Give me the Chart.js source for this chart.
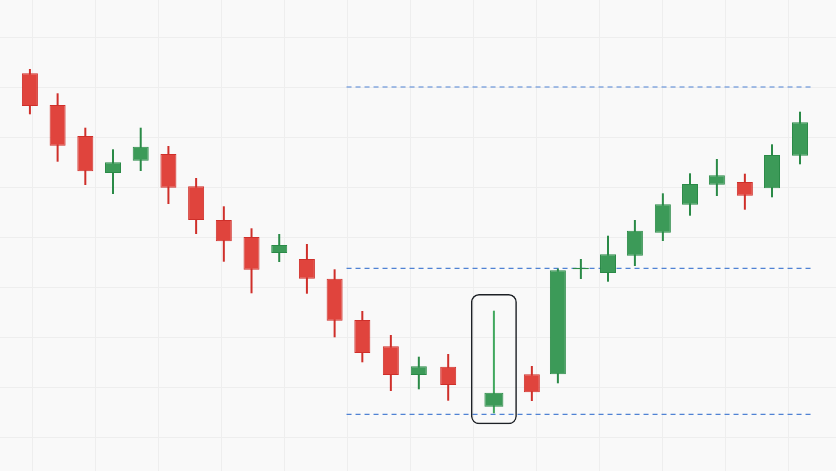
<!DOCTYPE html>
<html>
<head>
<meta charset="utf-8">
<script src="https://cdn.jsdelivr.net/npm/chart.js@4"></script>
<style>
  html, body { margin: 0; padding: 0; background: #f9f9f9; }
  #wrap { width: 836px; height: 471px; position: relative; }
</style>
</head>
<body>
<div id="wrap"><canvas id="candles"></canvas></div>
<script>
// ==========================================
// DATA
// ==========================================
// session slot of each candle (slightly irregular spacing in the original)
const slots  = [0, 1, 2, 3, 4, 5, 6, 7, 8, 9, 10, 11, 12, 13.03, 14.04, 15.1,
                16.75, 18.12, 19.06, 19.89, 20.87, 21.84, 22.85, 23.83, 24.8, 25.81, 26.79, 27.8];
const opens  = [82.74, 76.4, 70.2, 62.8, 65.26, 66.6, 60.14, 53.4, 50, 46.8, 45.6, 41.66, 33.4, 28.14,
                22.4, 24.06, 16.06, 22.54, 22.54, 43.54, 42.8, 46.26, 50.86, 56.46, 60.46, 61, 59.74, 66.26];
const closes = [76.2, 68.26, 63.14, 64.94, 68.06, 59.86, 53.4, 49.14, 43.46, 48.4, 41.66, 33.26, 26.8, 22.4,
                24.14, 20.4, 18.86, 18.94, 43.34, 43.86, 46.54, 51.26, 56.54, 60.6, 62.34, 58.26, 66.4, 72.94];
const highs  = [83.6, 78.74, 71.86, 67.54, 71.86, 68.2, 61.8, 56.14, 51.74, 50.6, 48.6, 43.54, 35.2, 30.4,
                26.06, 26.6, 35.26, 24.2, 43.7, 45.6, 50.26, 53.4, 58.74, 62.74, 65.6, 62.66, 68.54, 75.06];
const lows   = [74.54, 65.06, 60.4, 58.6, 63.2, 56.6, 50.6, 45.06, 38.74, 45, 38.66, 29.94, 24.94, 19.2,
                19.54, 17.26, 14.74, 17.2, 20.74, 41.6, 41.06, 44.2, 49.2, 54.26, 58.2, 55.46, 57.94, 64.54];

// support / resistance levels (dashed) and the slots they span
const levels = [80, 43.74, 14.54];
const levelFrom = 11.43;
const levelTo = 28.22;

// the hammer candle that gets the rounded frame, and the frame's price range
const highlightIdx = 16;
const frameRange = [12.54, 38.6];

// ==========================================
// CONFIG
// ==========================================
const xMin = -1.08, xMax = 29.1;      // visible slot range
const yMin = 3.2, yMax = 97.4;        // visible price range
const gridXStart = 0.11, gridXStep = 2.274;

const upBody = '#3c9a58', upEdge = '#2a8a47';
const downBody = '#e0443d', downEdge = '#cf2f2a';
const levelColor = '#4f82d4';
const gridColor = '#eeeeee';

const isUp = i => closes[i] >= opens[i];

// ==========================================
// DATASETS
// ==========================================
const bodyIdx = slots.map((_, i) => i).filter(i => i !== highlightIdx);

const bodies = {
    type: 'bar',
    stack: 'c',
    data: bodyIdx.map(i => ({ x: slots[i], y: [opens[i], closes[i]] })),
    backgroundColor: bodyIdx.map(i => isUp(i) ? upBody : downBody),
    borderColor: bodyIdx.map(i => isUp(i) ? upEdge : downEdge),
    borderWidth: 1,
    borderSkipped: false,
    barThickness: 16,
    inflateAmount: 0,
    order: 2
};

const highlightBody = {
    type: 'bar',
    stack: 'c',
    data: [{ x: slots[highlightIdx], y: [opens[highlightIdx], closes[highlightIdx]] }],
    backgroundColor: isUp(highlightIdx) ? upBody : downBody,
    borderColor: isUp(highlightIdx) ? upEdge : downEdge,
    borderWidth: 1,
    borderSkipped: false,
    barThickness: 19,
    inflateAmount: 0,
    order: 2
};

const wicks = {
    type: 'bar',
    stack: 'c',
    data: slots.map((x, i) => ({ x: x, y: [lows[i], highs[i]] })),
    backgroundColor: slots.map((_, i) => i === highlightIdx ? '#41a85e' : (isUp(i) ? upEdge : downEdge)),
    barThickness: 2,
    inflateAmount: 0,
    order: 3
};

const frame = {
    type: 'bar',
    stack: 'c',
    data: [{ x: slots[highlightIdx], y: frameRange }],
    backgroundColor: 'rgba(0,0,0,0)',
    borderColor: '#1d2126',
    borderWidth: 1.5,
    borderSkipped: false,
    borderRadius: { topLeft: 8, topRight: 8, bottomLeft: 8, bottomRight: 8 },
    barThickness: 46,
    inflateAmount: 0,
    order: 1
};

const levelLines = levels.map(v => ({
    type: 'line',
    data: [{ x: levelFrom, y: v }, { x: levelTo, y: v }],
    borderColor: levelColor,
    borderWidth: 1.2,
    borderDash: [5, 4],
    pointRadius: 0,
    fill: false,
    order: 4
}));

// ==========================================
// CHART
// ==========================================
const ctx = document.getElementById('candles').getContext('2d');

new Chart(ctx, {
    type: 'bar',
    data: { datasets: [frame, highlightBody, bodies, wicks, ...levelLines] },
    options: {
        responsive: true,
        maintainAspectRatio: false,
        animation: false,
        layout: { padding: 0 },
        plugins: {
            legend: { display: false },
            tooltip: { enabled: false }
        },
        scales: {
            x: {
                type: 'linear',
                min: xMin,
                max: xMax,
                offset: false,
                afterBuildTicks: scale => {
                    const t = [];
                    for (let v = gridXStart; v < xMax; v += gridXStep) t.push({ value: v });
                    scale.ticks = t;
                },
                ticks: { display: false },
                grid: { color: gridColor, lineWidth: 1, drawTicks: false, offset: false },
                border: { display: false }
            },
            y: {
                type: 'linear',
                min: yMin,
                max: yMax,
                stacked: false,
                beginAtZero: false,
                ticks: { display: false, stepSize: 10, includeBounds: false },
                grid: { color: gridColor, lineWidth: 1, drawTicks: false },
                border: { display: false }
            }
        }
    }
});
</script>
</body>
</html>
